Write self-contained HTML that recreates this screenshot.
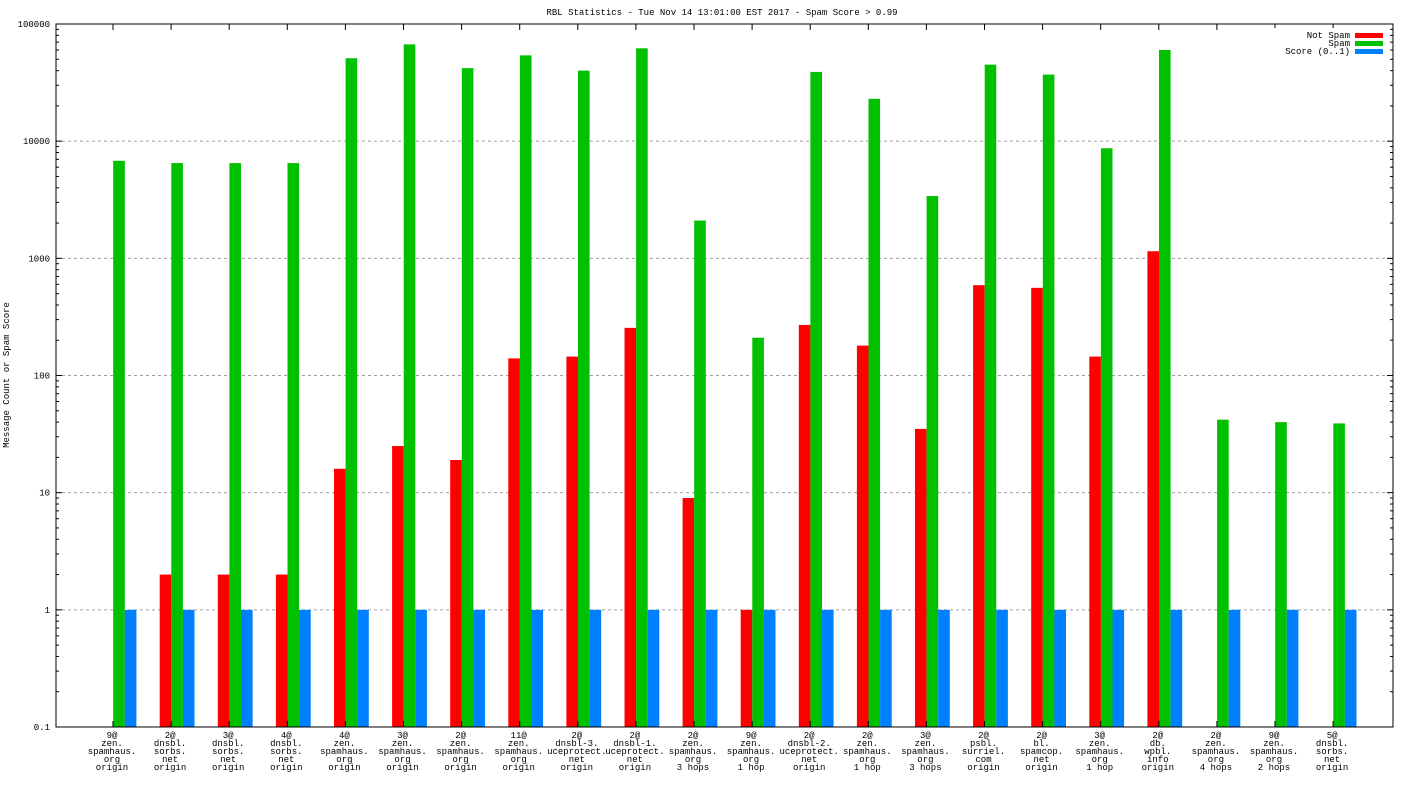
<!DOCTYPE html>
<html><head><meta charset="utf-8"><style>
html,body{margin:0;padding:0;background:#fff}
svg{display:block;font-family:"Liberation Mono","DejaVu Sans Mono",monospace;font-size:9px}
</style></head><body>
<svg id="chart" width="1408" height="792" viewBox="0 0 1408 792" xmlns="http://www.w3.org/2000/svg">
<text x="722" y="15" text-anchor="middle">RBL Statistics - Tue Nov 14 13:01:00 EST 2017 - Spam Score &gt; 0.99</text>
<text transform="translate(9,375) rotate(-90)" text-anchor="middle">Message Count or Spam Score</text>
<g id="grid"></g><g id="bars"></g><g id="axes"></g><g id="labels"></g>
<g>
<rect x="1270" y="28" width="118" height="30" fill="#fff"/>
<text x="1350" y="38" text-anchor="end">Not Spam</text>
<rect x="1355" y="33" width="28" height="5" fill="#ff0000"/>
<text x="1350" y="46" text-anchor="end">Spam</text>
<rect x="1355" y="41" width="28" height="5" fill="#00c000"/>
<text x="1350" y="54" text-anchor="end">Score (0..1)</text>
<rect x="1355" y="49" width="28" height="5" fill="#0080ff"/>
</g>
</svg>
<script>
const categories=[["9@","zen.","spamhaus.","org","origin"],["2@","dnsbl.","sorbs.","net","origin"],["3@","dnsbl.","sorbs.","net","origin"],["4@","dnsbl.","sorbs.","net","origin"],["4@","zen.","spamhaus.","org","origin"],["3@","zen.","spamhaus.","org","origin"],["2@","zen.","spamhaus.","org","origin"],["11@","zen.","spamhaus.","org","origin"],["2@","dnsbl-3.","uceprotect.","net","origin"],["2@","dnsbl-1.","uceprotect.","net","origin"],["2@","zen.","spamhaus.","org","3 hops"],["9@","zen.","spamhaus.","org","1 hop"],["2@","dnsbl-2.","uceprotect.","net","origin"],["2@","zen.","spamhaus.","org","1 hop"],["3@","zen.","spamhaus.","org","3 hops"],["2@","psbl.","surriel.","com","origin"],["2@","bl.","spamcop.","net","origin"],["3@","zen.","spamhaus.","org","1 hop"],["2@","db.","wpbl.","info","origin"],["2@","zen.","spamhaus.","org","4 hops"],["9@","zen.","spamhaus.","org","2 hops"],["5@","dnsbl.","sorbs.","net","origin"]];
const notSpam=[0,2,2,2,16,25,19,140,145,255,9,1,270,180,35,590,560,145,1150,0,0,0];
const spam=[6800,6500,6500,6500,51000,67000,42000,54000,40000,62000,2100,210,39000,23000,3400,45000,37000,8700,60000,42,40,39];
const score=[1,1,1,1,1,1,1,1,1,1,1,1,1,1,1,1,1,1,1,1,1,1];
const yTicks=[0.1,1,10,100,1000,10000,100000];
const yTickLabels=["0.1","1","10","100","1000","10000","100000"];
const L=56,R=1393,T=24,B=727,minLog=-1,maxLog=5;
const NS="http://www.w3.org/2000/svg";
function y(v){return B-(Math.log10(v)-minLog)/(maxLog-minLog)*(B-T);}
const step=58.1;
function xc(i){return L+57+i*step;}
function mk(t,a,p){const e=document.createElementNS(NS,t);for(const k in a)e.setAttribute(k,a[k]);document.getElementById(p).appendChild(e);return e;}
yTicks.forEach((v,i)=>{
  const yy=y(v);
  if(i>0&&i<yTicks.length-1){const g=mk('line',{x1:L,x2:R,y1:yy,y2:yy,stroke:'#a0a0a0','stroke-dasharray':'3,3'},'grid');
  
  }
  const t=mk('text',{x:L-6,y:yy+3,'text-anchor':'end'},'labels');t.textContent=yTickLabels[i];
  
  
  for(let m=2;m<=9&&i<yTicks.length-1;m++){const my=y(v*m);
    mk('line',{x1:L,x2:L+3,y1:my,y2:my,stroke:'#000'},'axes');mk('line',{x1:R,x2:R-3,y1:my,y2:my,stroke:'#000'},'axes');}
  mk('line',{x1:L,x2:L+6,y1:yy,y2:yy,stroke:'#000'},'axes');mk('line',{x1:R,x2:R-6,y1:yy,y2:yy,stroke:'#000'},'axes');
});
const bw=11.6;
const series=[[notSpam,'#ff0000','not-spam'],[spam,'#00c000','spam'],[score,'#0080ff','score']];
categories.forEach((c,i)=>{
  const gx=xc(i)-11.4;
  series.forEach((s,k)=>{const v=s[0][i];if(!(v>0.1))return;
    const r=mk('rect',{x:gx+k*bw,y:y(v),width:bw,height:B-y(v),fill:s[1]},'bars');
    
    });
  mk('line',{x1:xc(i),x2:xc(i),y1:B,y2:B-6,stroke:'#000'},'axes');
  mk('line',{x1:xc(i),x2:xc(i),y1:T,y2:T+6,stroke:'#000'},'axes');
  c.forEach((ln,j)=>{const t=mk('text',{x:xc(i)-1,y:B+11+j*8,'text-anchor':'middle'},'labels');t.textContent=ln;
    
    });
});
const f=mk('rect',{x:L,y:T,width:R-L,height:B-T,fill:'none',stroke:'#000'},'axes');


</script>
</body></html>
